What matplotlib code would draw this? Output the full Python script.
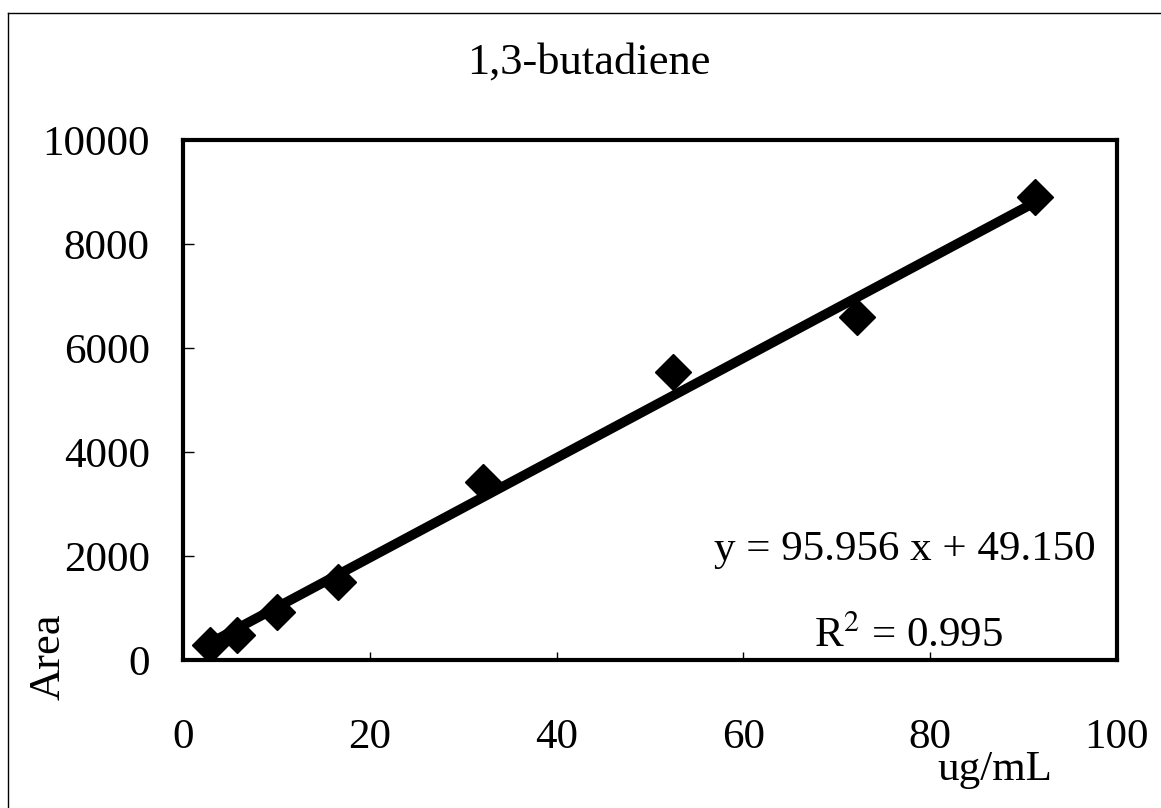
import numpy as np
import matplotlib
matplotlib.use("Agg")
import matplotlib.pyplot as plt
from matplotlib.lines import Line2D

# data
conc = [2.9, 5.8, 10.1, 16.6, 32.1, 52.5, 72.2, 91.2]
area = [290, 480, 930, 1500, 3420, 5540, 6600, 8900]
slope = 95.956
intercept = 49.150
r2 = 0.995
xticks = [0, 20, 40, 60, 80, 100]
yticks = [0, 2000, 4000, 6000, 8000, 10000]

plt.rcParams['font.family'] = ['Liberation Serif', 'DejaVu Serif']
plt.rcParams['mathtext.fontset'] = 'stix'

W, H = 1161, 808
fig = plt.figure(figsize=(W / 100, H / 100), dpi=100)

def fx(px):
    return px / W

def fy(py):
    return 1 - py / H

# scanned page border (only left and top show)
fig.add_artist(Line2D([fx(8), fx(8)], [fy(808), fy(13)], color='black', lw=1))
fig.add_artist(Line2D([fx(8), fx(1161)], [fy(13), fy(13)], color='black', lw=1))

ax = fig.add_axes([fx(183), fy(660), fx(1117) - fx(183), fy(140) - fy(660)])
ax.set_xlim(0, 100)
ax.set_ylim(0, 10000)

xs = np.array([min(conc), max(conc)])
ax.plot(xs, slope * xs + intercept, color='black', lw=7, solid_capstyle='butt', zorder=2)
ax.plot(conc, area, linestyle='none', marker='D', ms=18, color='black', zorder=3)

for s in ax.spines.values():
    s.set_linewidth(3)

ax.set_xticks(xticks)
ax.set_yticks(yticks)
ax.tick_params(axis='x', direction='in', length=6, width=1, pad=42, labelsize=31)
ax.tick_params(axis='y', direction='in', length=8, width=1, pad=24, labelsize=31)

ax.text(0.773, 0.2115, 'y = 95.956 x + 49.150', transform=ax.transAxes,
        ha='center', va='center', fontsize=31)
ax.text(0.777, 0.046, r'R$^2$ = %.3f' % r2, transform=ax.transAxes,
        ha='center', va='center', fontsize=31)

fig.text(fx(589), fy(63), '1,3-butadiene', ha='center', va='center', fontsize=32)
fig.text(fx(49), fy(657), 'Area', ha='center', va='center', rotation=90, fontsize=32)
fig.text(fx(995), fy(770), 'ug/mL', ha='center', va='center', fontsize=31)

fig.savefig('out.png', dpi=100)
